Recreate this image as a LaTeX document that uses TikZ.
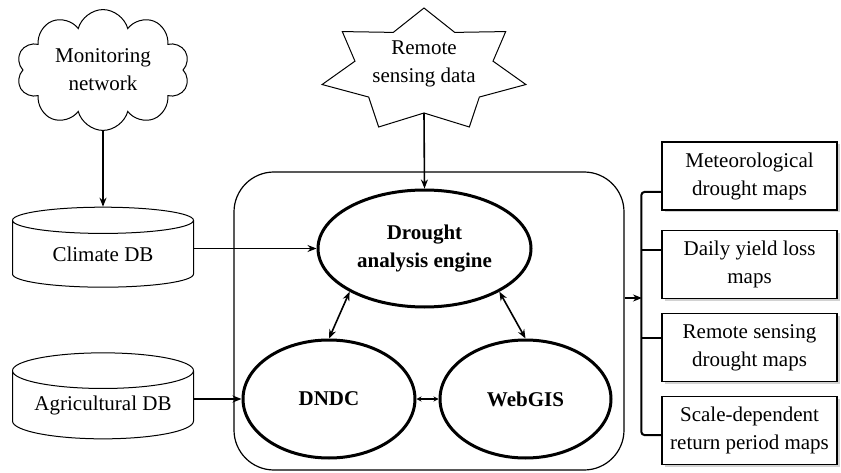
\documentclass[tikz,border=0pt]{standalone}
\usepackage{fontspec}
\setmainfont{Liberation Serif}
\usetikzlibrary{shapes.geometric,shapes.symbols,arrows.meta,shadows}

\tikzset{
  txt/.style={font=\fontsize{21}{28}\selectfont, align=center},
  dbase/.style={txt, draw, line width=1pt, cylinder, shape border rotate=90, aspect=0.26, minimum width=181pt, minimum height=80pt, inner sep=0pt},
  engine/.style={txt, font=\fontsize{21}{28}\selectfont\bfseries, draw, ellipse, line width=3pt, inner sep=0pt},
  mapbox/.style={txt, draw, line width=1.2pt, fill=white, minimum width=175pt, minimum height=68pt, drop shadow={shadow xshift=2.5pt, shadow yshift=-2.5pt, fill=black!35}},
  arr/.style={-{Stealth[length=9pt,width=7pt]}, line width=1.6pt},
  darr/.style={{Stealth[length=9pt,width=7pt]}-{Stealth[length=9pt,width=7pt]}, line width=1.6pt},
}

\begin{document}
\begin{tikzpicture}[x=1pt,y=1pt]
    \useasboundingbox (0,0) rectangle (841,472);

    % sources
    \node[txt, draw, cloud, cloud puffs=10, aspect=1.45, minimum width=173pt, minimum height=120pt, line width=1pt, inner sep=0pt] (monitor) at (103,402) {Monitoring\\network};
    \draw[line width=1pt, shift={(424,401.4)}] (90:104.5pt and 62.6pt)
        \foreach \k in {0,...,6}{ -- ({90+\k*360/7+180/7}:70.8pt and 42.4pt) -- ({90+(\k+1)*360/7}:104.5pt and 62.6pt)} -- cycle;
    \node[txt] (remote) at (424,408) {Remote\\sensing data};
    \coordinate (rsbot) at (424,359);

    % databases
    \node[dbase] (climate) at (103,218) {Climate DB};
    \node[dbase, minimum height=86pt] (agri) at (103,67) {Agricultural DB};

    % core
    \node[draw, line width=1.2pt, rounded corners=40pt, minimum width=390pt, minimum height=298pt] (core) at (429,151) {};
    \node[engine, minimum width=213pt, minimum height=117pt] (engine) at (424.5,223.5) {Drought\\analysis engine};
    \node[engine, minimum width=172pt, minimum height=118pt] (dndc) at (329,73) {DNDC};
    \node[engine, minimum width=171pt, minimum height=118pt] (webgis) at (525.5,73) {WebGIS};

    % outputs
    \node[mapbox] (met) at (749.5,296) {Meteorological\\drought maps};
    \node[mapbox] (yield) at (749.5,207.5) {Daily yield loss\\maps};
    \node[mapbox] (rsmap) at (749.5,124.5) {Remote sensing\\drought maps};
    \node[mapbox] (scale) at (749.5,41.5) {Scale-dependent\\return period maps};

    \draw[arr] (monitor.south) -- (climate.north);
    \draw[arr, line width=1.3pt] (climate.east |- engine.west) -- (engine.west);
    \draw[arr] (agri.east |- dndc.west) -- (dndc.west);
    \draw[arr] (rsbot) -- (engine.north);
    \draw[darr] (engine.210) -- (dndc.north);
    \draw[darr] (engine.330) -- (webgis.north);
    \draw[{Stealth[length=5pt,width=5pt]}-{Stealth[length=5pt,width=5pt]}, line width=1.3pt] (dndc.east) -- (webgis.west);

    \coordinate (fork) at (642,174);
    \draw[arr] ([yshift=23pt]core.east) -- (fork);
    \draw[line width=2pt, rounded corners=3pt] ([yshift=-16pt]met.west) -- ++(-20,0) |- ([yshift=-4.5pt]scale.west);
    \draw[line width=2pt] ([yshift=14.5pt]yield.west) -- ++(-20,0);
    \draw[line width=2pt] ([yshift=9.5pt]rsmap.west) -- ++(-20,0);
\end{tikzpicture}
\end{document}
